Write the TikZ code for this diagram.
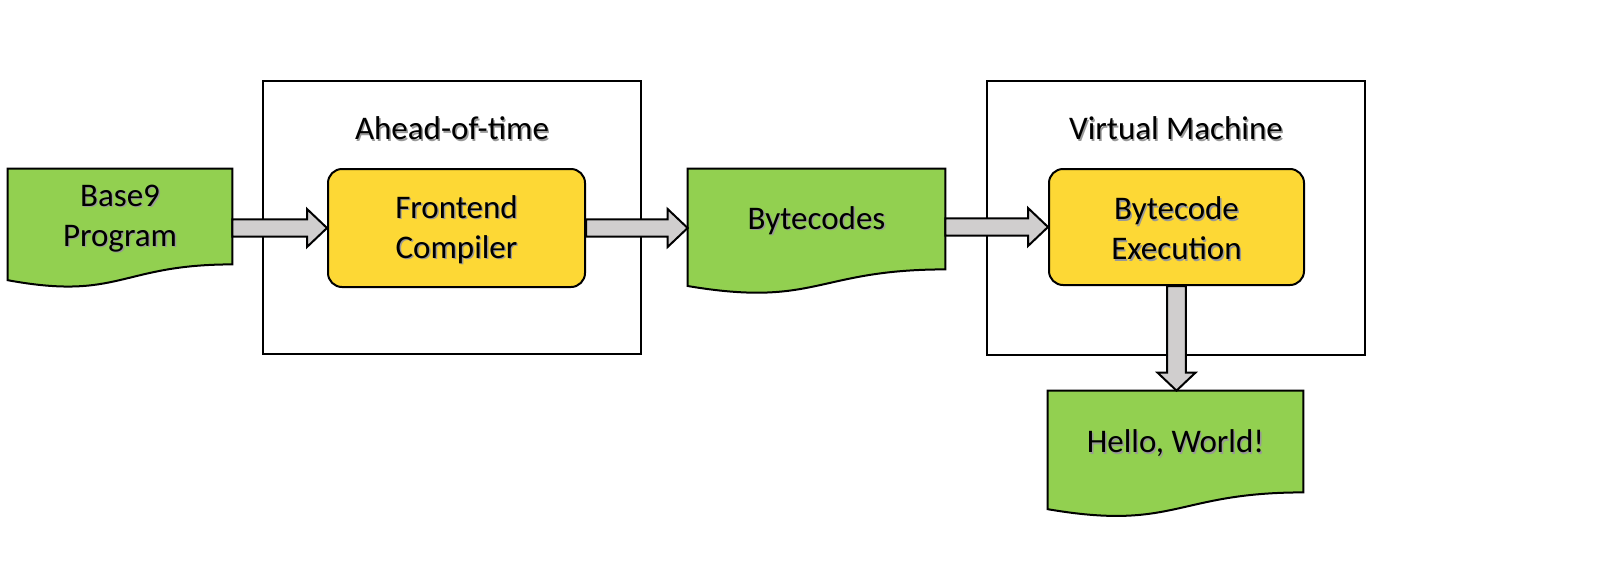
\documentclass[tikz,border=0pt]{standalone}
\usepackage{fontspec}
\setmainfont{Carlito}
\usetikzlibrary{calc,backgrounds}
\definecolor{docgreen}{HTML}{92D050}
\definecolor{procyellow}{HTML}{FDD835}
\definecolor{arrowgray}{HTML}{D0CECE}
\newcommand\sh[1]{\rlap{\kern0.7pt\raisebox{-0.7pt}{\color{black!40}#1}}#1}
\newcommand\docshape[1]{%
  \draw[docstyle] let \p1=(#1.north west), \p2=(#1.south east), \n1={\y1-\y2} in
    (\p1) -- (\x2,\y1) -- (\p2)
    .. controls ($(#1.south)$) and ($(#1.south)+(0pt,-0.381*\n1)$) ..
    ($(#1.south west)+(0pt,-0.1646*\n1)$) -- cycle;}
% #1 from node, #2 to node, #3 node giving the arrow's height
\newcommand\harrow[3]{%
  \draw[blockarrow] let \p1=(#1.east), \p2=(#2.west), \p3=(#3.center) in
    (\x1,\y3+4.3pt) -- (\x2-10pt,\y3+4.3pt) -- (\x2-10pt,\y3+9.5pt) -- (\x2,\y3)
    -- (\x2-10pt,\y3-9.5pt) -- (\x2-10pt,\y3-4.3pt) -- (\x1,\y3-4.3pt) -- cycle;}
\newcommand\varrow[2]{%
  \draw[blockarrow] let \p1=(#1.south), \p2=(#2.north) in
    (\x1-4.7pt,\y1) -- (\x1-4.7pt,\y2+9pt) -- (\x1-9.5pt,\y2+9pt) -- (\x1,\y2)
    -- (\x1+9.5pt,\y2+9pt) -- (\x1+4.7pt,\y2+9pt) -- (\x1+4.7pt,\y1) -- cycle;}
\begin{document}
\begin{tikzpicture}[x=0.5pt,y=-0.5pt,
  txt/.style={font=\fontsize{16.5}{20}\selectfont, align=center, inner sep=0pt},
  docnode/.style={txt, minimum width=#1},
  docstyle/.style={draw=black, fill=docgreen, line width=1pt, line join=miter},
  procbox/.style={txt, draw=black, fill=procyellow, line width=1pt, rounded corners=7pt},
  framebox/.style={draw=black, line width=0.8pt, inner sep=0pt},
  blockarrow/.style={draw=black, fill=arrowgray, line width=1pt, line join=miter}]
\useasboundingbox (0,0) rectangle (1610,568);
% frames
\node[framebox, minimum width=189pt, minimum height=136.5pt] (aot) at (452,217.5) {};
\node[framebox, minimum width=189pt, minimum height=137pt] (vm) at (1176,218) {};
\node[txt] (aotlabel) at (452,129) {\sh{Ahead-of-time}};
\node[txt] (vmlabel) at (1176,129) {\sh{Virtual Machine}};
% documents (text nodes)
\node[docnode=112pt, minimum height=47.5pt] (base) at (120,216.5) {};
\node[txt] (basetext) at (120,219) {\sh{Base9}\\\sh{Program}};
\node[docnode=128.5pt, minimum height=50pt] (bc) at (816.5,219) {};
\node[txt] (bctext) at (816.5,221) {\sh{Bytecodes}};
\node[docnode=127.5pt, minimum height=50.5pt] (hello) at (1175.5,441.5) {};
\node[txt] (hellotext) at (1175.5,444) {\sh{Hello, World!}};
\begin{scope}[on background layer]
  \docshape{base}
  \docshape{bc}
  \docshape{hello}
\end{scope}
% processes
\node[procbox, minimum width=128.5pt, minimum height=59pt] (fe) at (456.5,228) {};
\node[txt] (fetext) at (456.5,230) {\sh{Frontend}\\\sh{Compiler}};
\node[procbox, minimum width=127.5pt, minimum height=58pt] (ex) at (1176.5,227) {};
\node[txt] (extext) at (1176.5,229) {\sh{Bytecode}\\\sh{Execution}};
% arrows
\harrow{base}{fe}{fe}
\harrow{fe}{bc}{fe}
\harrow{bc}{ex}{ex}
\varrow{ex}{hello}
\end{tikzpicture}
\end{document}
